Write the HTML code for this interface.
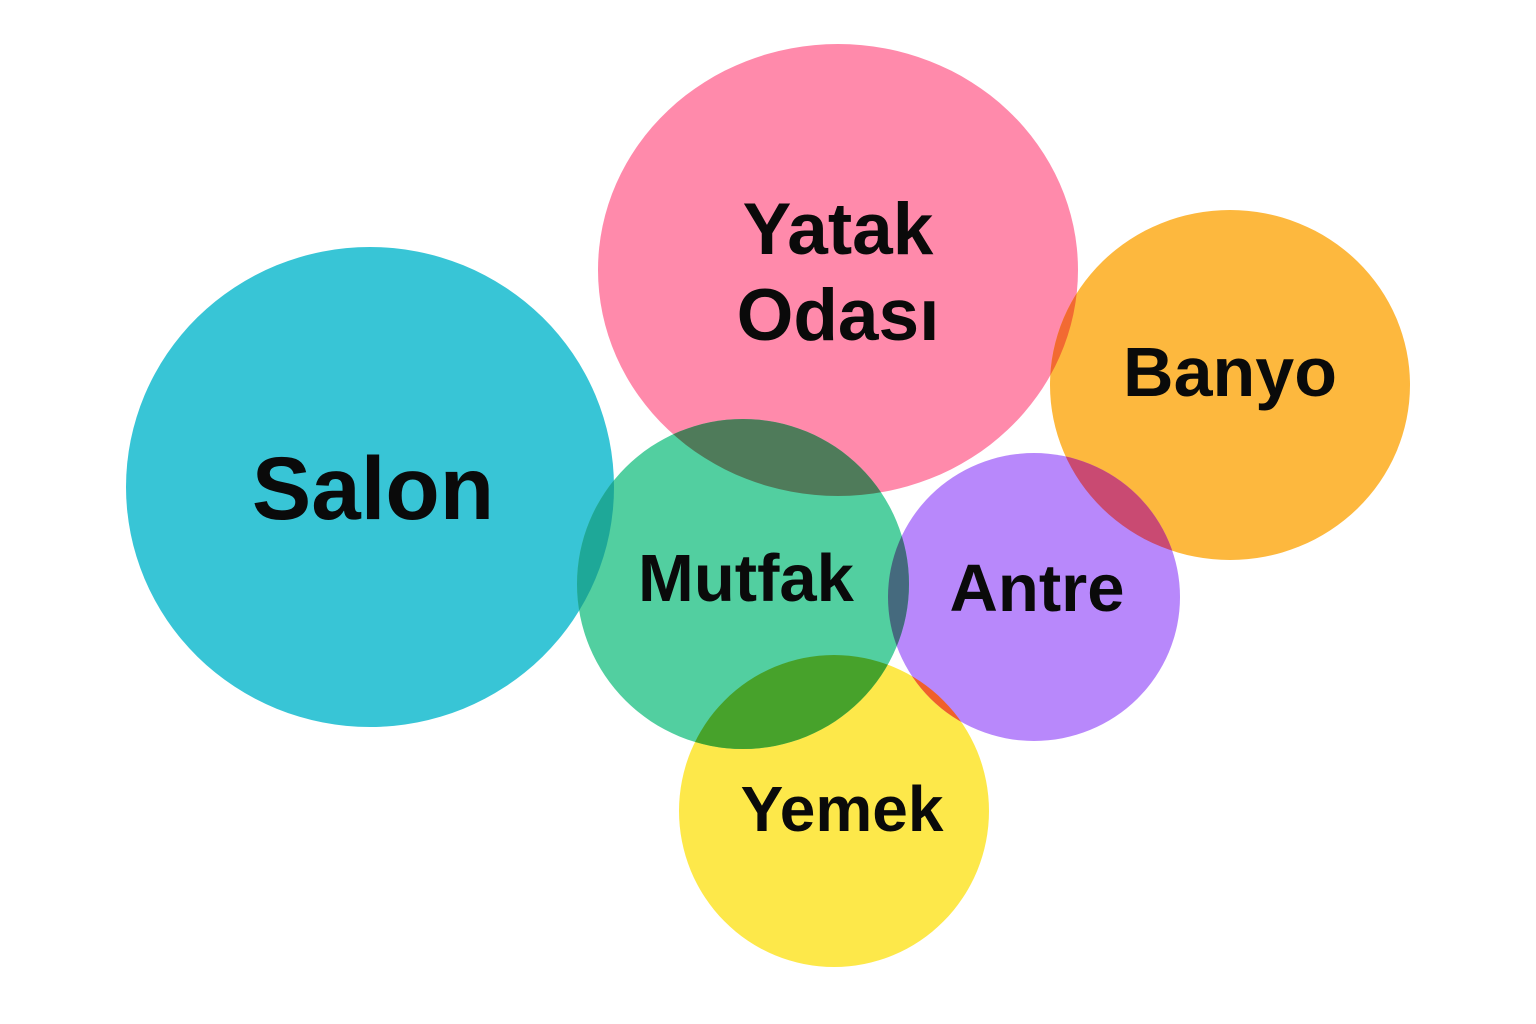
<!DOCTYPE html>
<html><head><meta charset="utf-8"><style>
html,body{margin:0;padding:0;background:#fff;}
svg{display:block;}
text{font-family:"Liberation Sans",sans-serif;font-weight:bold;fill:#0a0a0a;text-anchor:middle;}
</style></head><body>
<svg width="1536" height="1024" viewBox="0 0 1536 1024" xmlns="http://www.w3.org/2000/svg">
<defs>
<clipPath id="cS"><ellipse cx="370" cy="487" rx="244" ry="240"/></clipPath>
<clipPath id="cY"><ellipse cx="838" cy="270" rx="240" ry="226"/></clipPath>
<clipPath id="cB"><ellipse cx="1230" cy="385" rx="180" ry="175"/></clipPath>
<clipPath id="cM"><ellipse cx="743" cy="584" rx="166" ry="165"/></clipPath>
<clipPath id="cA"><ellipse cx="1034" cy="597" rx="146" ry="144"/></clipPath>
<clipPath id="cE"><ellipse cx="834" cy="811" rx="155" ry="156"/></clipPath>
</defs>
<ellipse cx="370" cy="487" rx="244" ry="240" fill="#38c5d6"/>
<ellipse cx="838" cy="270" rx="240" ry="226" fill="#ff8aab"/>
<ellipse cx="1230" cy="385" rx="180" ry="175" fill="#fdb83e"/>
<ellipse cx="834" cy="811" rx="155" ry="156" fill="#fde84a"/>
<ellipse cx="1034" cy="597" rx="146" ry="144" fill="#b888fb"/>
<ellipse cx="743" cy="584" rx="166" ry="165" fill="#52cfa0"/>
<g clip-path="url(#cY)"><ellipse cx="1230" cy="385" rx="180" ry="175" fill="#f26a32"/></g>
<g clip-path="url(#cB)"><ellipse cx="1034" cy="597" rx="146" ry="144" fill="#c94a72"/></g>
<g clip-path="url(#cE)"><ellipse cx="1034" cy="597" rx="146" ry="144" fill="#f0602a"/></g>
<g clip-path="url(#cS)"><ellipse cx="743" cy="584" rx="166" ry="165" fill="#1ea898"/></g>
<g clip-path="url(#cY)"><ellipse cx="743" cy="584" rx="166" ry="165" fill="#4f7b5a"/></g>
<g clip-path="url(#cA)"><ellipse cx="743" cy="584" rx="166" ry="165" fill="#456a7e"/></g>
<g clip-path="url(#cE)"><ellipse cx="743" cy="584" rx="166" ry="165" fill="#47a22b"/></g>
<text x="373" y="519" font-size="89">Salon</text>
<text x="838" y="254" font-size="73">Yatak</text>
<text x="838" y="340" font-size="73">Odası</text>
<text x="1230" y="396" font-size="70">Banyo</text>
<text x="746" y="601" font-size="67">Mutfak</text>
<text x="1037" y="611" font-size="67">Antre</text>
<text x="842" y="831" font-size="64">Yemek</text>
</svg>
</body></html>
